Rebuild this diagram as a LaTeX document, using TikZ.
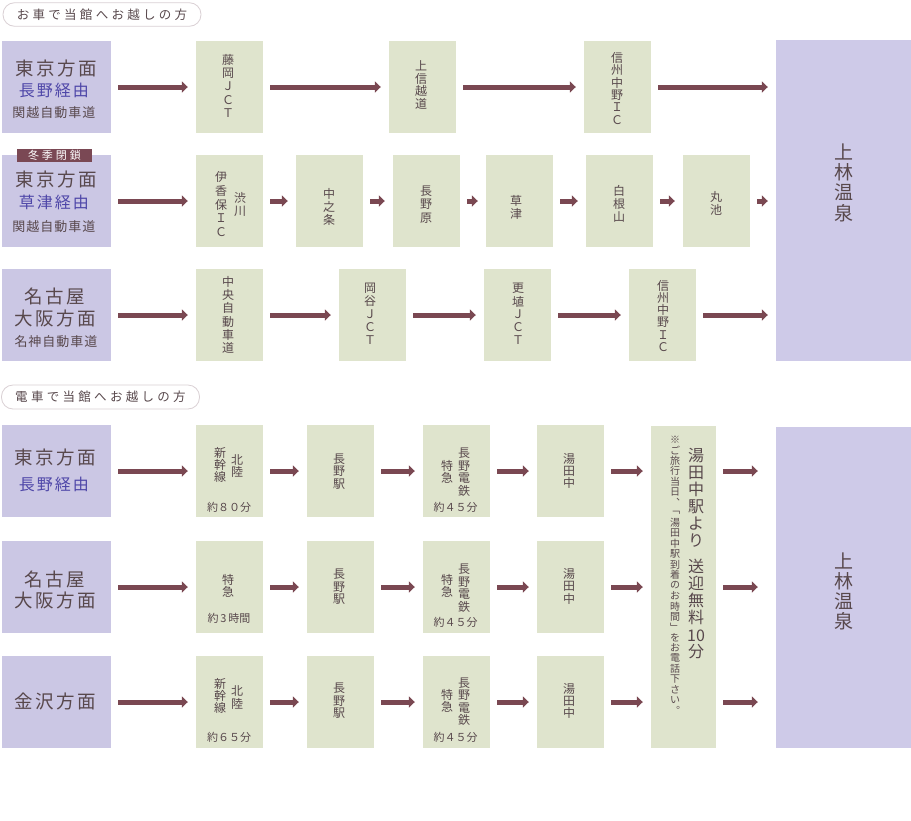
\documentclass[tikz,border=0pt]{standalone}
\usepackage{fontspec}
\setmainfont{Noto Sans CJK JP}
\usetikzlibrary{arrows.meta}
\definecolor{lav}{RGB}{203,199,228}
\definecolor{lavR}{RGB}{206,202,232}
\definecolor{grn}{RGB}{223,228,205}
\definecolor{arrc}{RGB}{122,72,82}
\definecolor{txt}{RGB}{88,72,76}
\definecolor{blu}{RGB}{78,70,168}
\definecolor{tagc}{RGB}{122,72,84}
\definecolor{pillb}{RGB}{218,208,212}
\makeatletter
\newcommand\vtc[2][1.12]{\@tfor\vt@c:=#2\do{\hbox to 1.1em{\hss\vbox to #1em{\vss\hbox{\vt@c}\vss}\hss}}}
\newcommand\vt[2][1.07]{\vbox{\offinterlineskip\vtc[#1]{#2}}}
\newcommand\spc[2]{\@tfor\sp@c:=#2\do{\sp@c\kern#1}\unkern}
\makeatother
\newcommand\fsz[1]{\fontsize{#1}{#1}\selectfont}
\tikzset{
  lbox/.style={fill=lav, minimum width=109pt, minimum height=92pt, inner sep=0pt},
  gbox/.style={fill=grn, minimum width=67pt, minimum height=92pt, inner sep=0pt},
  rbox/.style={fill=lavR, minimum width=135pt, minimum height=321pt, inner sep=0pt},
  tx/.style={inner sep=0pt, text=txt},
  vs/.style={inner sep=0pt, text=txt, font=\fsz{12}},
  hs/.style={inner sep=0pt, text=txt, font=\fsz{11}},
  bl/.style={inner sep=0pt, text=blu},
  pill/.style={draw=pillb, line width=0.8pt, fill=white, rounded corners=11.5pt, minimum width=198pt, minimum height=23.5pt, inner sep=0pt, text=txt, font=\fsz{12.5}},
  conn/.style={draw=arrc, line width=5pt, -{Triangle[length=6pt,width=11pt]}, shorten <=7pt, shorten >=8pt},
}
\begin{document}
\begin{tikzpicture}[x=1pt,y=-1pt]
\useasboundingbox[fill=white] (0,0) rectangle (911,820);

% ---------- car section ----------
\node[pill] (h1) at (102,14.5) {\spc{3.3pt}{お車で当館へお越しの方}};

\node[lbox] (c1) at (56.5,87) {};
\node[tx] (c1a) at (56,68.5) {\fsz{18.5}\spc{2.5pt}{東京方面}};
\node[bl] (c1b) at (54,90) {\fsz{16}\spc{2pt}{長野経由}};
\node[tx] (c1c) at (54,113) {\fsz{13}\spc{1pt}{関越自動車道}};

\node[lbox] (c2) at (56.5,201) {};
\node[fill=tagc, text=white, inner sep=0pt, minimum width=75pt, minimum height=13pt, font=\fsz{11}] (tag) at (54.5,155) {\spc{3pt}{冬季閉鎖}};
\node[tx] (c2a) at (56,179) {\fsz{18.5}\spc{2.5pt}{東京方面}};
\node[bl] (c2b) at (54,202) {\fsz{16}\spc{2pt}{草津経由}};
\node[tx] (c2c) at (54,226.5) {\fsz{13}\spc{1pt}{関越自動車道}};

\node[lbox] (c3) at (56.5,315) {};
\node[tx] (c3a) at (55,296) {\fsz{18.5}\spc{2.5pt}{名古屋}};
\node[tx] (c3b) at (55,318) {\fsz{18.5}\spc{2.5pt}{大阪方面}};
\node[tx] (c3c) at (56,341.5) {\fsz{13}\spc{1pt}{名神自動車道}};

% row 1
\node[gbox] (c12) at (229.5,87) {};
\node[vs] (c12a) at (228,86.5) {\vt[1.12]{藤岡ＪＣＴ}};
\node[gbox] (c13) at (422.5,87) {};
\node[vs] (c13a) at (421,85) {\vt[1.05]{上信越道}};
\node[gbox] (c14) at (617.5,87) {};
\node[vs] (c14a) at (617,89) {\vt[1.03]{信州中野ＩＣ}};

% row 2
\node[gbox] (c22) at (229.5,201) {};
\node[vs] (c22a) at (221,204.5) {\vt[1.15]{伊香保ＩＣ}};
\node[vs] (c22b) at (240,204.5) {\vt[1.15]{渋川}};
\node[gbox] (c23) at (329.5,201) {};
\node[vs] (c23a) at (329,207) {\vt{中之条}};
\node[gbox] (c24) at (426.5,201) {};
\node[vs] (c24a) at (426,204.5) {\vt[1.15]{長野原}};
\node[gbox] (c25) at (519.5,201) {};
\node[vs] (c25a) at (516,207.5) {\vt{草津}};
\node[gbox] (c26) at (619.5,201) {};
\node[vs] (c26a) at (619,204) {\vt{白根山}};
\node[gbox] (c27) at (716.5,201) {};
\node[vs] (c27a) at (716,203.5) {\vt{丸池}};

% row 3
\node[gbox] (c32) at (229.5,315) {};
\node[vs] (c32a) at (228,315) {\vt[1.11]{中央自動車道}};
\node[gbox] (c33) at (372.5,315) {};
\node[vs] (c33a) at (370,314.5) {\vt[1.08]{岡谷ＪＣＴ}};
\node[gbox] (c34) at (517.5,315) {};
\node[vs] (c34a) at (518,314.5) {\vt[1.08]{更埴ＪＣＴ}};
\node[gbox] (c35) at (662.5,315) {};
\node[vs] (c35a) at (663,316.5) {\vt[1.02]{信州中野ＩＣ}};

\node[rbox] (R1) at (843.5,200.5) {};
\node[tx] (R1a) at (844,182.5) {\fsz{19}\vt[1.07]{上林温泉}};

\draw[conn] (c1) -- (c12);
\draw[conn] (c12) -- (c13);
\draw[conn] (c13) -- (c14);
\draw[conn] (c14.east) -- (R1.west |- c14.east);
\draw[conn] (c2) -- (c22);
\draw[conn] (c22) -- (c23);
\draw[conn] (c23) -- (c24);
\draw[conn] (c24) -- (c25);
\draw[conn] (c25) -- (c26);
\draw[conn] (c26) -- (c27);
\draw[conn] (c27.east) -- (R1.west |- c27.east);
\draw[conn] (c3) -- (c32);
\draw[conn] (c32) -- (c33);
\draw[conn] (c33) -- (c34);
\draw[conn] (c34) -- (c35);
\draw[conn] (c35.east) -- (R1.west |- c35.east);

% ---------- train section ----------
\node[pill, minimum height=24pt] (h2) at (100.5,397) {\spc{3.3pt}{電車で当館へお越しの方}};

\node[lbox] (t1) at (56.5,471) {};
\node[tx] (t1a) at (55,457.5) {\fsz{18.5}\spc{2.5pt}{東京方面}};
\node[bl] (t1b) at (54,484) {\fsz{16}\spc{2pt}{長野経由}};
\node[lbox] (t2) at (56.5,587) {};
\node[tx] (t2a) at (55,579.5) {\fsz{18.5}\spc{2.5pt}{名古屋}};
\node[tx] (t2b) at (55,600.5) {\fsz{18.5}\spc{2.5pt}{大阪方面}};
\node[lbox] (t3) at (56.5,702) {};
\node[tx] (t3a) at (55,701.5) {\fsz{18.5}\spc{2.5pt}{金沢方面}};

% train row 1
\node[gbox] (t12) at (229.5,471) {};
\node[vs] (t12a) at (220,465) {\vt[1.01]{新幹線}};
\node[vs] (t12b) at (237,466) {\vt[1.01]{北陸}};
\node[hs] (t12c) at (229,507) {約８０分};
\node[gbox] (t13) at (340.5,471) {};
\node[vs] (t13a) at (339,471.5) {\vt[1.03]{長野駅}};
\node[gbox] (t14) at (456.5,471) {};
\node[vs] (t14a) at (447,471.5) {\vt[1.0]{特急}};
\node[vs] (t14b) at (464,472) {\vt[1.04]{長野電鉄}};
\node[hs] (t14c) at (455.5,507) {約４５分};
\node[gbox] (t15) at (570.5,471) {};
\node[vs] (t15a) at (569,471) {\vt[1.01]{湯田中}};

% train row 2
\node[gbox] (t22) at (229.5,587) {};
\node[vs] (t22a) at (228,585.5) {\vt[1.0]{特急}};
\node[hs] (t22c) at (229,618) {約\,3\,時間};
\node[gbox] (t23) at (340.5,587) {};
\node[vs] (t23a) at (339,587) {\vt[1.03]{長野駅}};
\node[gbox] (t24) at (456.5,587) {};
\node[vs] (t24a) at (447,586) {\vt[1.0]{特急}};
\node[vs] (t24b) at (464,588) {\vt[1.04]{長野電鉄}};
\node[hs] (t24c) at (455.5,622) {約４５分};
\node[gbox] (t25) at (570.5,587) {};
\node[vs] (t25a) at (569,586.5) {\vt[1.01]{湯田中}};

% train row 3
\node[gbox] (t32) at (229.5,702) {};
\node[vs] (t32a) at (220,696) {\vt[1.01]{新幹線}};
\node[vs] (t32b) at (237,697.5) {\vt[1.01]{北陸}};
\node[hs] (t32c) at (229,737) {約６５分};
\node[gbox] (t33) at (340.5,702) {};
\node[vs] (t33a) at (339,701) {\vt[1.03]{長野駅}};
\node[gbox] (t34) at (456.5,702) {};
\node[vs] (t34a) at (447,700.5) {\vt[1.0]{特急}};
\node[vs] (t34b) at (464,701.5) {\vt[1.04]{長野電鉄}};
\node[hs] (t34c) at (455.5,737) {約４５分};
\node[gbox] (t35) at (570.5,702) {};
\node[vs] (t35a) at (569,701) {\vt[1.01]{湯田中}};

% shuttle box
\node[fill=grn, minimum width=65pt, minimum height=322pt, inner sep=0pt] (vb) at (683.5,587) {};
\node[tx] (vb1) at (696,553) {\fsz{16}\vbox{\offinterlineskip\vtc[1.06]{湯田中駅より}\kern9pt\vtc[1.06]{送迎無料}\kern3pt\vtc[0.95]{{10}分}}};
\node[tx] (vb2) at (675,575) {\fsz{10}\vt[1.04]{※ご旅行当日︑﹁湯田中駅到着のお時間﹂をお電話下さい︒}};

\node[rbox] (R2) at (843.5,587.5) {};
\node[tx] (R2a) at (844,591) {\fsz{19}\vt[1.07]{上林温泉}};

\draw[conn] (t1) -- (t12);
\draw[conn] (t12) -- (t13);
\draw[conn] (t13) -- (t14);
\draw[conn] (t14) -- (t15);
\draw[conn] (t15.east) -- (vb.west |- t15.east);
\draw[conn] (t2) -- (t22);
\draw[conn] (t22) -- (t23);
\draw[conn] (t23) -- (t24);
\draw[conn] (t24) -- (t25);
\draw[conn] (t25.east) -- (vb.west |- t25.east);
\draw[conn] (t3) -- (t32);
\draw[conn] (t32) -- (t33);
\draw[conn] (t33) -- (t34);
\draw[conn] (t34) -- (t35);
\draw[conn] (t35.east) -- (vb.west |- t35.east);
\draw[conn, shorten >=18pt] (vb.east |- t15.east) -- (R2.west |- t15.east);
\draw[conn, shorten >=18pt] (vb.east |- t25.east) -- (R2.west |- t25.east);
\draw[conn, shorten >=18pt] (vb.east |- t35.east) -- (R2.west |- t35.east);
\end{tikzpicture}
\end{document}
